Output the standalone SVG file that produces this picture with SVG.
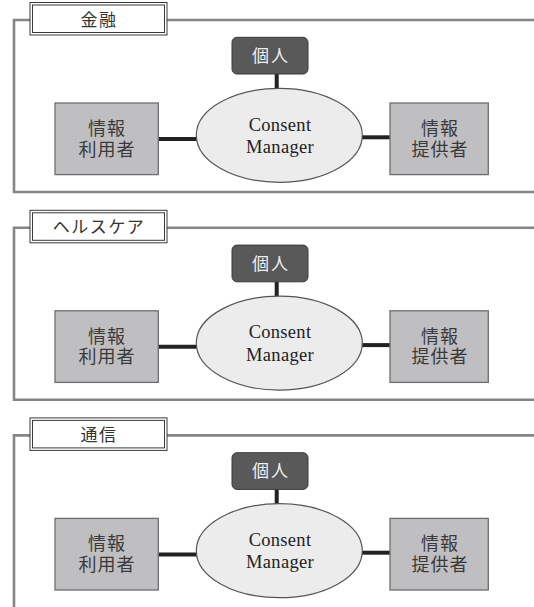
<svg xmlns="http://www.w3.org/2000/svg" width="534" height="607" viewBox="0 0 534 607">
  <style>
    .frame { fill: none; stroke: #858585; stroke-width: 2.6; }
    .tag-outer { fill: #fff; stroke: #3a3a3a; stroke-width: 1; }
    .tag-inner { fill: none; stroke: #3a3a3a; stroke-width: 1; }
    .tag-text { font-family: "Noto Sans CJK JP", "Noto Sans CJK SC", sans-serif; font-size: 17px; letter-spacing: 1.5px; fill: #333; text-anchor: middle; }
    .person { fill: #595959; stroke: #3a3a3a; stroke-width: 1; }
    .person-text { font-family: "Noto Sans CJK JP", "Noto Sans CJK SC", sans-serif; font-size: 17px; letter-spacing: 2px; fill: #f0f0f0; text-anchor: middle; }
    .cm { fill: #ececec; stroke: #555; stroke-width: 1.2; }
    .cm-text { font-family: "Liberation Serif", "Times New Roman", serif; font-size: 18.5px; fill: #222; text-anchor: middle; letter-spacing: 0.3px; }
    .party { fill: #bfbfc1; stroke: #6e6e6e; stroke-width: 1.3; }
    .party-text { font-family: "Noto Sans CJK JP", "Noto Sans CJK SC", sans-serif; font-size: 18px; letter-spacing: 1px; fill: #3a3a3a; text-anchor: middle; }
    .link { stroke: #222; stroke-width: 4; fill: none; }
  </style>

  <!-- Panel 1: 金融 -->
  <g id="panel-finance">
    <path class="frame" d="M 534 20 H 14 V 192 H 534"/>
    <g id="finance-tag">
      <rect class="tag-outer" x="30" y="2.5" width="137" height="32.5"/>
      <rect class="tag-inner" x="32.5" y="5" width="132" height="27.5"/>
      <text class="tag-text" x="99" y="25.5">金融</text>
    </g>
    <g id="finance-links">
      <line class="link" x1="276.7" y1="74" x2="276.7" y2="89"/>
      <line class="link" x1="158.3" y1="139" x2="198" y2="139"/>
      <line class="link" x1="360" y1="137.3" x2="390" y2="137.3"/>
    </g>
    <g id="finance-person">
      <rect class="person" x="232" y="37.3" width="76" height="36.7" rx="5"/>
      <text class="person-text" x="271" y="62">個人</text>
    </g>
    <g id="finance-consent-manager">
      <ellipse class="cm" cx="279.3" cy="135.3" rx="83" ry="47"/>
      <text class="cm-text" x="280" y="130.5">Consent<tspan x="280" dy="22.5">Manager</tspan></text>
    </g>
    <g id="finance-user">
      <rect class="party" x="55" y="103" width="103.3" height="71.6"/>
      <text class="party-text" x="107" y="135">情報<tspan x="107" dy="20.5">利用者</tspan></text>
    </g>
    <g id="finance-provider">
      <rect class="party" x="390" y="103" width="98.3" height="71.6"/>
      <text class="party-text" x="440" y="135">情報<tspan x="440" dy="20.5">提供者</tspan></text>
    </g>
  </g>

  <!-- Panel 2: ヘルスケア -->
  <g id="panel-healthcare" transform="translate(0,207.8)">
    <path class="frame" d="M 534 20 H 14 V 192 H 534"/>
    <g id="healthcare-tag">
      <rect class="tag-outer" x="30" y="2.5" width="137" height="32.5"/>
      <rect class="tag-inner" x="32.5" y="5" width="132" height="27.5"/>
      <text class="tag-text" x="99" y="25.5">ヘルスケア</text>
    </g>
    <g id="healthcare-links">
      <line class="link" x1="276.7" y1="74" x2="276.7" y2="89"/>
      <line class="link" x1="158.3" y1="139" x2="198" y2="139"/>
      <line class="link" x1="360" y1="137.3" x2="390" y2="137.3"/>
    </g>
    <g id="healthcare-person">
      <rect class="person" x="232" y="37.3" width="76" height="36.7" rx="5"/>
      <text class="person-text" x="271" y="62">個人</text>
    </g>
    <g id="healthcare-consent-manager">
      <ellipse class="cm" cx="279.3" cy="135.3" rx="83" ry="47"/>
      <text class="cm-text" x="280" y="130.5">Consent<tspan x="280" dy="22.5">Manager</tspan></text>
    </g>
    <g id="healthcare-user">
      <rect class="party" x="55" y="103" width="103.3" height="71.6"/>
      <text class="party-text" x="107" y="135">情報<tspan x="107" dy="20.5">利用者</tspan></text>
    </g>
    <g id="healthcare-provider">
      <rect class="party" x="390" y="103" width="98.3" height="71.6"/>
      <text class="party-text" x="440" y="135">情報<tspan x="440" dy="20.5">提供者</tspan></text>
    </g>
  </g>

  <!-- Panel 3: 通信 (frame runs off the bottom edge) -->
  <g id="panel-telecom" transform="translate(0,415.4)">
    <path class="frame" d="M 534 20 H 14 V 192"/>
    <g id="telecom-tag">
      <rect class="tag-outer" x="30" y="2.5" width="137" height="32.5"/>
      <rect class="tag-inner" x="32.5" y="5" width="132" height="27.5"/>
      <text class="tag-text" x="99" y="25.5">通信</text>
    </g>
    <g id="telecom-links">
      <line class="link" x1="276.7" y1="74" x2="276.7" y2="89"/>
      <line class="link" x1="158.3" y1="139" x2="198" y2="139"/>
      <line class="link" x1="360" y1="137.3" x2="390" y2="137.3"/>
    </g>
    <g id="telecom-person">
      <rect class="person" x="232" y="37.3" width="76" height="36.7" rx="5"/>
      <text class="person-text" x="271" y="62">個人</text>
    </g>
    <g id="telecom-consent-manager">
      <ellipse class="cm" cx="279.3" cy="135.3" rx="83" ry="47"/>
      <text class="cm-text" x="280" y="130.5">Consent<tspan x="280" dy="22.5">Manager</tspan></text>
    </g>
    <g id="telecom-user">
      <rect class="party" x="55" y="103" width="103.3" height="71.6"/>
      <text class="party-text" x="107" y="135">情報<tspan x="107" dy="20.5">利用者</tspan></text>
    </g>
    <g id="telecom-provider">
      <rect class="party" x="390" y="103" width="98.3" height="71.6"/>
      <text class="party-text" x="440" y="135">情報<tspan x="440" dy="20.5">提供者</tspan></text>
    </g>
  </g>
</svg>
